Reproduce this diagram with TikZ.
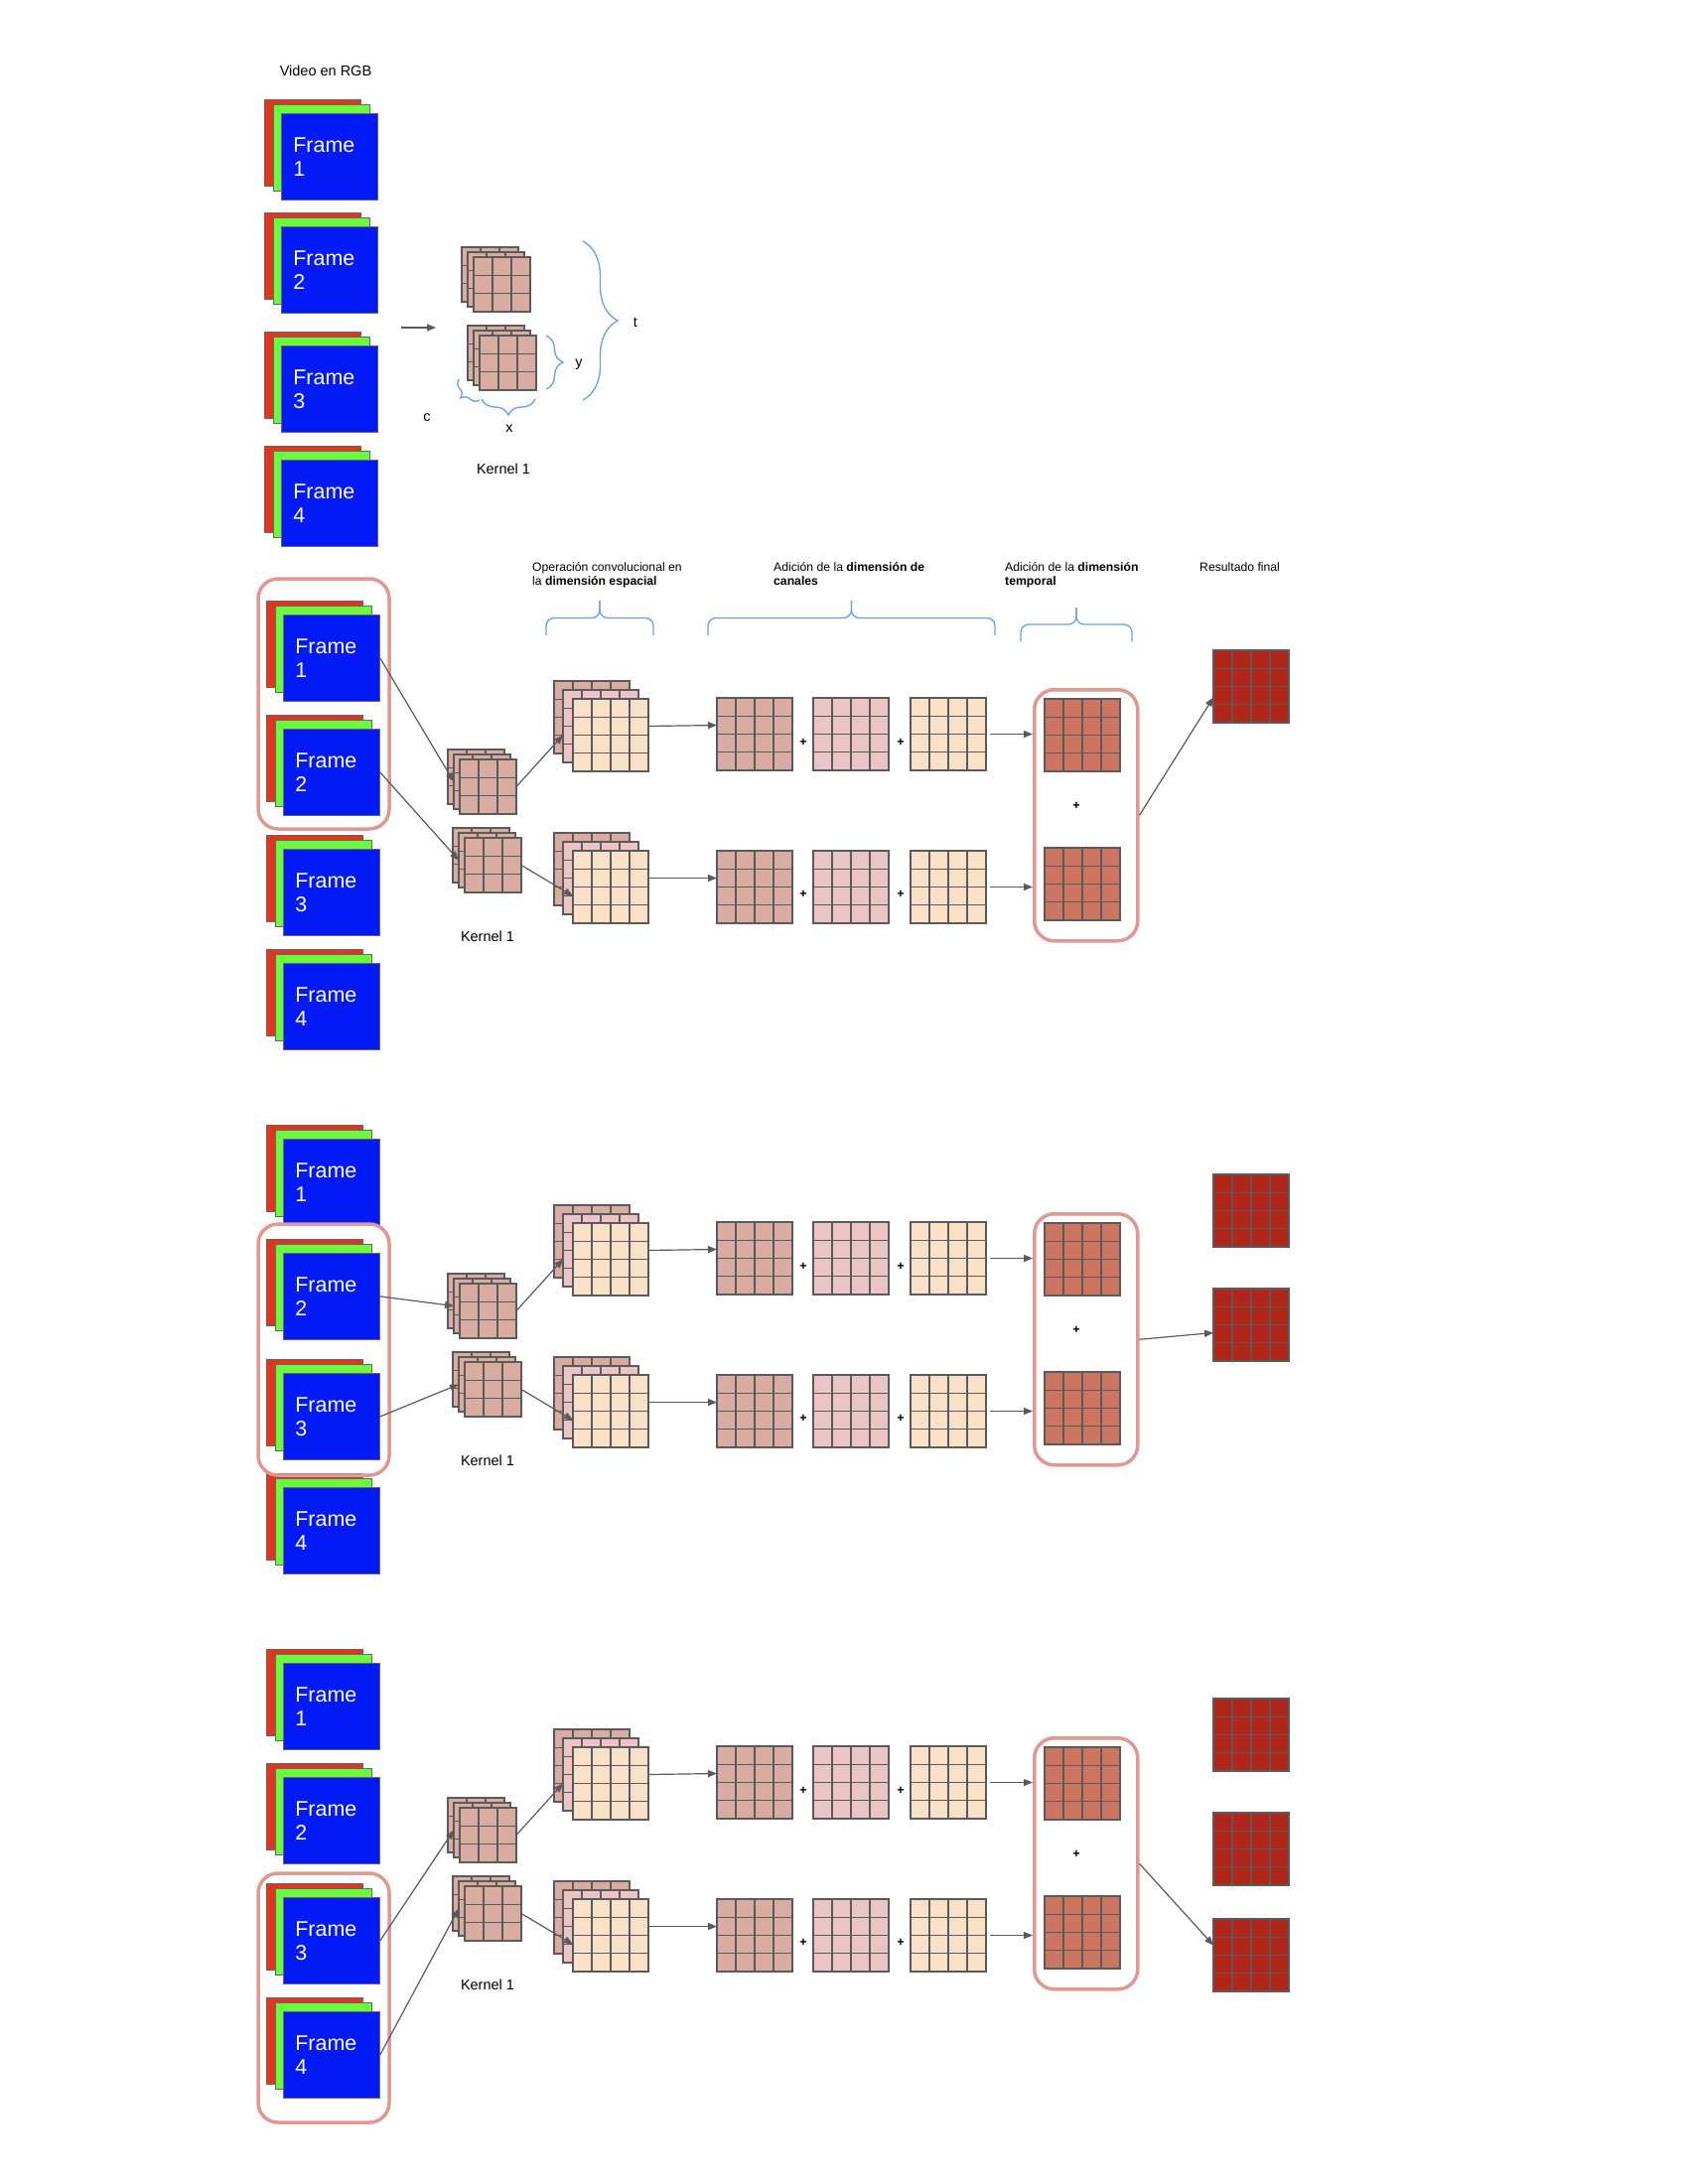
\documentclass[tikz,border=0pt]{standalone}
\usepackage{fontspec}
\setmainfont{Liberation Sans}
\usetikzlibrary{arrows.meta,calc,decorations.pathreplacing}

\definecolor{redch}{RGB}{229,52,30}
\definecolor{greench}{RGB}{108,250,62}
\definecolor{frameblue}{RGB}{2,26,246}
\definecolor{kernc}{RGB}{216,172,161}
\definecolor{pinkc}{RGB}{235,197,198}
\definecolor{beigec}{RGB}{248,225,198}
\definecolor{tempc}{RGB}{204,118,97}
\definecolor{resc}{RGB}{176,38,26}
\definecolor{boxc}{RGB}{225,152,149}
\definecolor{bracec}{RGB}{108,158,228}
\definecolor{linec}{RGB}{90,90,90}

\tikzset{
  chan/.style={draw=black!60, line width=0.8pt, minimum width=97pt, minimum height=87pt, inner sep=0pt},
  frame/.style={chan, fill=frameblue, text=white, text width=73pt, inner xsep=12pt, align=left, font=\fontsize{21.4}{24}\selectfont},
  cell/.style={draw=linec, line width=1.2pt, inner sep=0pt, outer sep=0pt},
  kern/.style={cell, fill=kernc, minimum width=57pt, minimum height=55pt},
  feat/.style={cell, minimum width=76pt, minimum height=73pt},
  temp/.style={feat, fill=tempc},
  result/.style={feat, fill=resc},
  tbox/.style={draw=boxc, line width=3.5pt, rounded corners=20pt, minimum width=104pt, minimum height=253pt, inner sep=0pt},
  selbox/.style={draw=boxc, line width=3.5pt, rounded corners=20pt},
  arr/.style={draw=linec, line width=1.2pt, -{Triangle[length=9pt,width=7pt]}},
  braceline/.style={draw=bracec, line width=1.3pt},
  curly/.style={braceline, decorate},
  head/.style={font=\fontsize{12.2}{14.5}\selectfont, align=left, inner sep=0pt},
  lbl/.style={font=\fontsize{14.5}{17}\selectfont, inner sep=0pt},
  plus/.style={font=\fontsize{12.5}{12.5}\bfseries\selectfont, inner sep=0pt}
}

\newcommand{\framestack}[4]{%
  \node[chan, fill=redch, anchor=north west] at (#2-17,#3-14) {};
  \node[chan, fill=greench, anchor=north west] at (#2-8,#3-9) {};
  \node[frame, anchor=north west] (#1) at (#2,#3) {Frame\\#4};
}
\newcommand{\cellbox}[5]{%
  \node[#1, anchor=north west] (#2) at (#3,#4) {};
  \pgfmathtruncatemacro\lastcut{#5-1}
  \foreach \i in {1,...,\lastcut} {
    \draw[cell] ($(#2.north west)!\i/#5!(#2.north east)$) -- ($(#2.south west)!\i/#5!(#2.south east)$);
    \draw[cell] ($(#2.north west)!\i/#5!(#2.south west)$) -- ($(#2.north east)!\i/#5!(#2.south east)$);
  }
}
\newcommand{\kernstack}[3]{%
  \cellbox{kern}{#1a}{#2-12}{#3-10}{3}
  \cellbox{kern}{#1m}{#2-6}{#3-5}{3}
  \cellbox{kern}{#1}{#2}{#3}{3}
}
\newcommand{\featstack}[3]{%
  \cellbox{feat,fill=kernc}{#1a}{#2-19}{#3-18}{4}
  \cellbox{feat,fill=pinkc}{#1m}{#2-10}{#3-9}{4}
  \cellbox{feat,fill=beigec}{#1}{#2}{#3}{4}
}
\newcommand{\topbrace}[4]{%
  \draw[braceline, rounded corners=8pt] (#1,#3) -- (#1,{(#3+#4)/2}) -- ({(#1+#2)/2},{(#3+#4)/2}) -- ({(#1+#2)/2},#4);
  \draw[braceline, rounded corners=8pt] (#2,#3) -- (#2,{(#3+#4)/2}) -- ({(#1+#2)/2},{(#3+#4)/2}) -- ({(#1+#2)/2},#4);
}

\begin{document}
\begin{tikzpicture}[x=1pt,y=-1pt]
  \path[fill=white] (0,0) rectangle (1700,2200);

  \node[lbl, anchor=base] (vid) at (328,77) {Video en RGB};
  \foreach \fr/\dd in {1/0,2/114,3/234,4/349}
    \framestack{fr0\fr}{283}{114+\dd}{\fr};
  \coordinate (a0) at (404,330);
  \coordinate (a1) at (439,330);
  \draw[arr] (a0) -- (a1);
  \kernstack{kt0}{477}{259}
  \kernstack{kb0}{483}{338}
  \draw[curly, decoration={brace,amplitude=17pt}] (550,338) -- (550,392);
  \draw[curly, decoration={brace,amplitude=35pt}] (587,243) -- (587,403);
  \draw[curly, decoration={brace,amplitude=16pt}] (539,402) -- (485,402);
  \draw[curly, decoration={brace,amplitude=12pt}] (483,403) -- (462,382);
  \node[lbl] (ly) at (583,367) {y};
  \node[lbl] (lt) at (640,325) {t};
  \node[lbl] (lx) at (513,432) {x};
  \node[lbl] (lc) at (430,421) {c};
  \node[lbl, anchor=base] (kl0) at (507,477) {Kernel 1};

  \node[head, anchor=north west] (h1) at (536,566) {Operación convolucional en\\la \textbf{dimensión espacial}};
  \node[head, anchor=north west] (h2) at (779,566) {Adición de la \textbf{dimensión de}\\\textbf{canales}};
  \node[head, anchor=north west] (h3) at (1012,566) {Adición de la \textbf{dimensión}\\\textbf{temporal}};
  \node[head, anchor=north west] (h4) at (1208,566) {Resultado final};
  \topbrace{550}{658}{640}{605}
  \topbrace{713}{1002}{640}{605}
  \topbrace{1028}{1140}{646}{612}

  \foreach \s/\off/\nb/\ya/\yb/\dy in {1/0/2/583/835/11, 2/528/3/1233/1486/8, 3/1056/4/1887/2138/-10} {
    \foreach \fr/\dd in {1/0,2/115,3/236,4/351}
      \framestack{fr\s\fr}{285}{619+\off+\dd}{\fr};
    \draw[selbox] (260,\ya) rectangle (392,\yb);
    \kernstack{kt\s}{463}{765+\off}
    \kernstack{kb\s}{468}{844+\off}
    \node[lbl, anchor=base] (kl\s) at (491,948+\off) {Kernel 1};
    \featstack{ft\s}{577}{704+\off}
    \featstack{fb\s}{577}{857+\off}
    \cellbox{feat,fill=kernc}{ga\s}{722}{703+\off}{4}
    \cellbox{feat,fill=pinkc}{gb\s}{819}{703+\off}{4}
    \cellbox{feat,fill=beigec}{gc\s}{917}{703+\off}{4}
    \cellbox{feat,fill=kernc}{ha\s}{722}{857+\off}{4}
    \cellbox{feat,fill=pinkc}{hb\s}{819}{857+\off}{4}
    \cellbox{feat,fill=beigec}{hc\s}{917}{857+\off}{4}
    \node[plus] (pa\s) at (809,748+\off) {+};
    \node[plus] (pb\s) at (907,748+\off) {+};
    \node[plus] (pc\s) at (809,901+\off) {+};
    \node[plus] (pd\s) at (907,901+\off) {+};
    \node[tbox, anchor=north west] (tb\s) at (1040,693+\off) {};
    \cellbox{temp}{tt\s}{1052}{704+\off}{4}
    \cellbox{temp}{tu\s}{1052}{854+\off}{4}
    \node[plus] (pt\s) at (1084,812+\off) {+};
    \foreach \res/\ry in {1/655,2/770,3/877} {
      \ifnum\res>\s\else
        \cellbox{result}{rs\s\res}{1222}{\ry+\off}{4}
      \fi
    }
    \draw[arr] (fr\s\s.east) -- (kt\s m.west);
    \draw[arr] (fr\s\nb.east) -- (kb\s m.west);
    \draw[arr] (kt\s.east) -- ($(ft\s m.west)+(0,9)$);
    \draw[arr] (kb\s.east) -- ($(fb\s.west)+(0,9)$);
    \draw[arr] ($(ft\s.east)+(0,-9)$) -- ($(ga\s.west)+(0,-9)$);
    \draw[arr] ($(fb\s.east)+(0,-9)$) -- ($(ha\s.west)+(0,-9)$);
    \draw[arr, shorten <=4pt] (gc\s.east) -- (tb\s.west |- gc\s.east);
    \draw[arr, shorten <=4pt] (hc\s.east) -- (tb\s.west |- hc\s.east);
    \draw[arr] (tb\s.east) -- ($(rs\s\s.west)+(0,\dy)$);
  }
\end{tikzpicture}
\end{document}
